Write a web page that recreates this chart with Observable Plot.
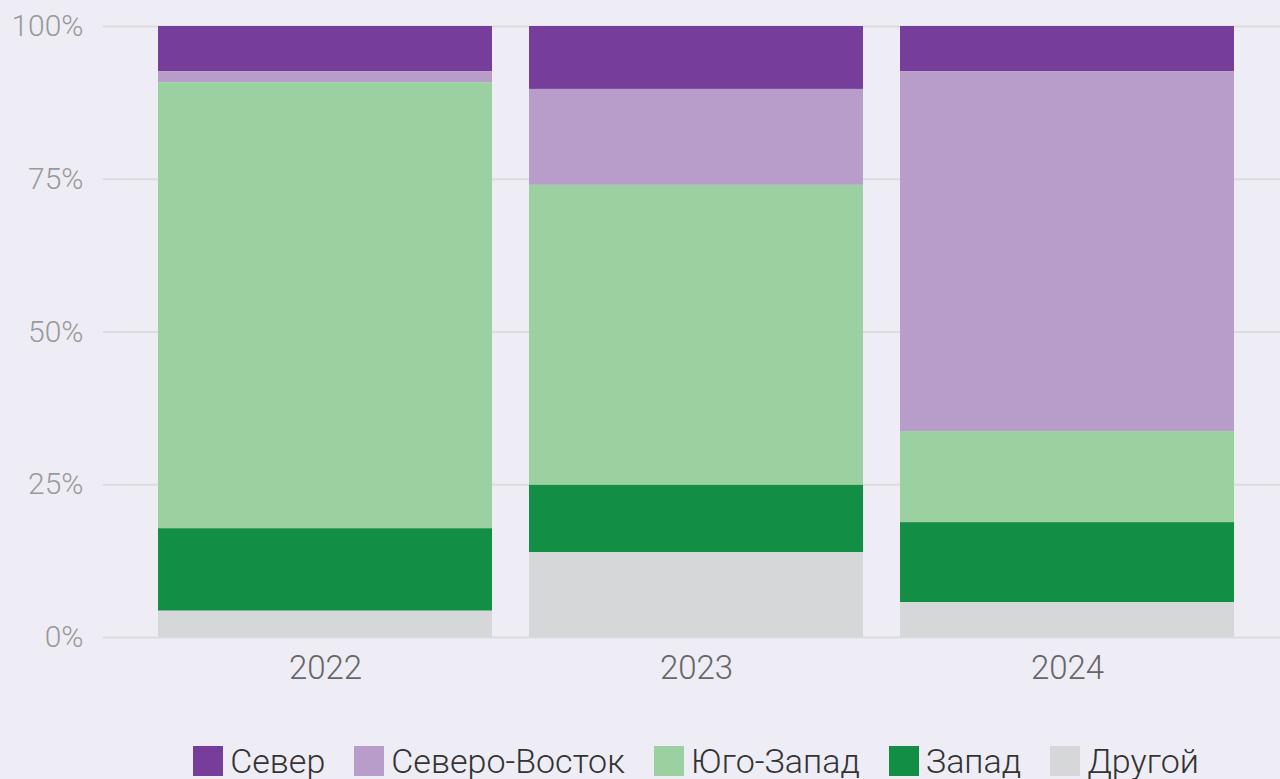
<!DOCTYPE html>
<html>
<head>
<meta charset="utf-8">
<script src="https://cdn.jsdelivr.net/npm/d3@7"></script>
<script src="https://cdn.jsdelivr.net/npm/@observablehq/plot@0.6"></script>
<style>
  html, body { margin: 0; padding: 0; background: #eeedf5; }
  body { width: 1280px; height: 779px; overflow: hidden; font-family: Roboto, "Noto Sans", sans-serif; }
  #legend { display: flex; justify-content: center; padding-left: 112px; margin-top: 26px; gap: 29px;
            font-family: Roboto, sans-serif; font-weight: 300; font-size: 34px; color: #333; }
  .item { display: flex; align-items: center; gap: 7px; line-height: 30px; }
  .sw { width: 30px; height: 30px; display: inline-block; }
</style>
</head>
<body>
<div id="chart"></div>
<div id="legend"></div>
<script>
const years = ["2022", "2023", "2024"];
const series = ["Север", "Северо-Восток", "Юго-Запад", "Запад", "Другой"];
const colors = ["#763e9a", "#b89cc9", "#9bd1a0", "#128f45", "#d6d7d9"];
const sever =        [7.4, 10.3, 7.4];
const severVostok =  [1.8, 15.7, 58.9];
const yugoZapad =    [73.0, 49.1, 14.9];
const zapad =        [13.5, 11.0, 13.1];
const drugoy =       [4.3, 13.9, 5.7];
const yTicks = [0, 25, 50, 75, 100];

const values = [sever, severVostok, yugoZapad, zapad, drugoy];
const data = [];
series.forEach((s, i) => years.forEach((y, j) => data.push({year: y, series: s, value: values[i][j]})));
const stackOrder = ["Другой", "Запад", "Юго-Запад", "Северо-Восток", "Север"];

const chart = Plot.plot({
  width: 1280,
  height: 720,
  marginTop: 26,
  marginBottom: 83,
  marginLeft: 103,
  marginRight: 0,
  style: {background: "transparent", fontFamily: "Roboto, sans-serif"},
  x: {domain: years, padding: 0.1, insetLeft: 17, insetRight: 9, label: null},
  y: {domain: [0, 100], label: null},
  color: {domain: series, range: colors},
  marks: [
    Plot.ruleY(yTicks, {stroke: "#dcdbe2", strokeWidth: 2}),
    Plot.barY(data, Plot.stackY({order: stackOrder}, {x: "year", y: "value", fill: "series"})),
    Plot.axisY({ticks: yTicks, tickSize: 0, tickPadding: 20, tickFormat: d => d + "%",
                fontSize: 30, fill: "#999", fontWeight: 300, label: null}),
    Plot.axisX({tickSize: 0, tickPadding: 18, fontSize: 33, fill: "#666", fontWeight: 300, label: null})
  ]
});
document.getElementById("chart").appendChild(chart);

const legend = document.getElementById("legend");
series.forEach((s, i) => {
  const it = document.createElement("div");
  it.className = "item";
  const sw = document.createElement("span");
  sw.className = "sw";
  sw.style.background = colors[i];
  const t = document.createElement("span");
  t.textContent = s;
  it.appendChild(sw); it.appendChild(t);
  legend.appendChild(it);
});
</script>
</body>
</html>
